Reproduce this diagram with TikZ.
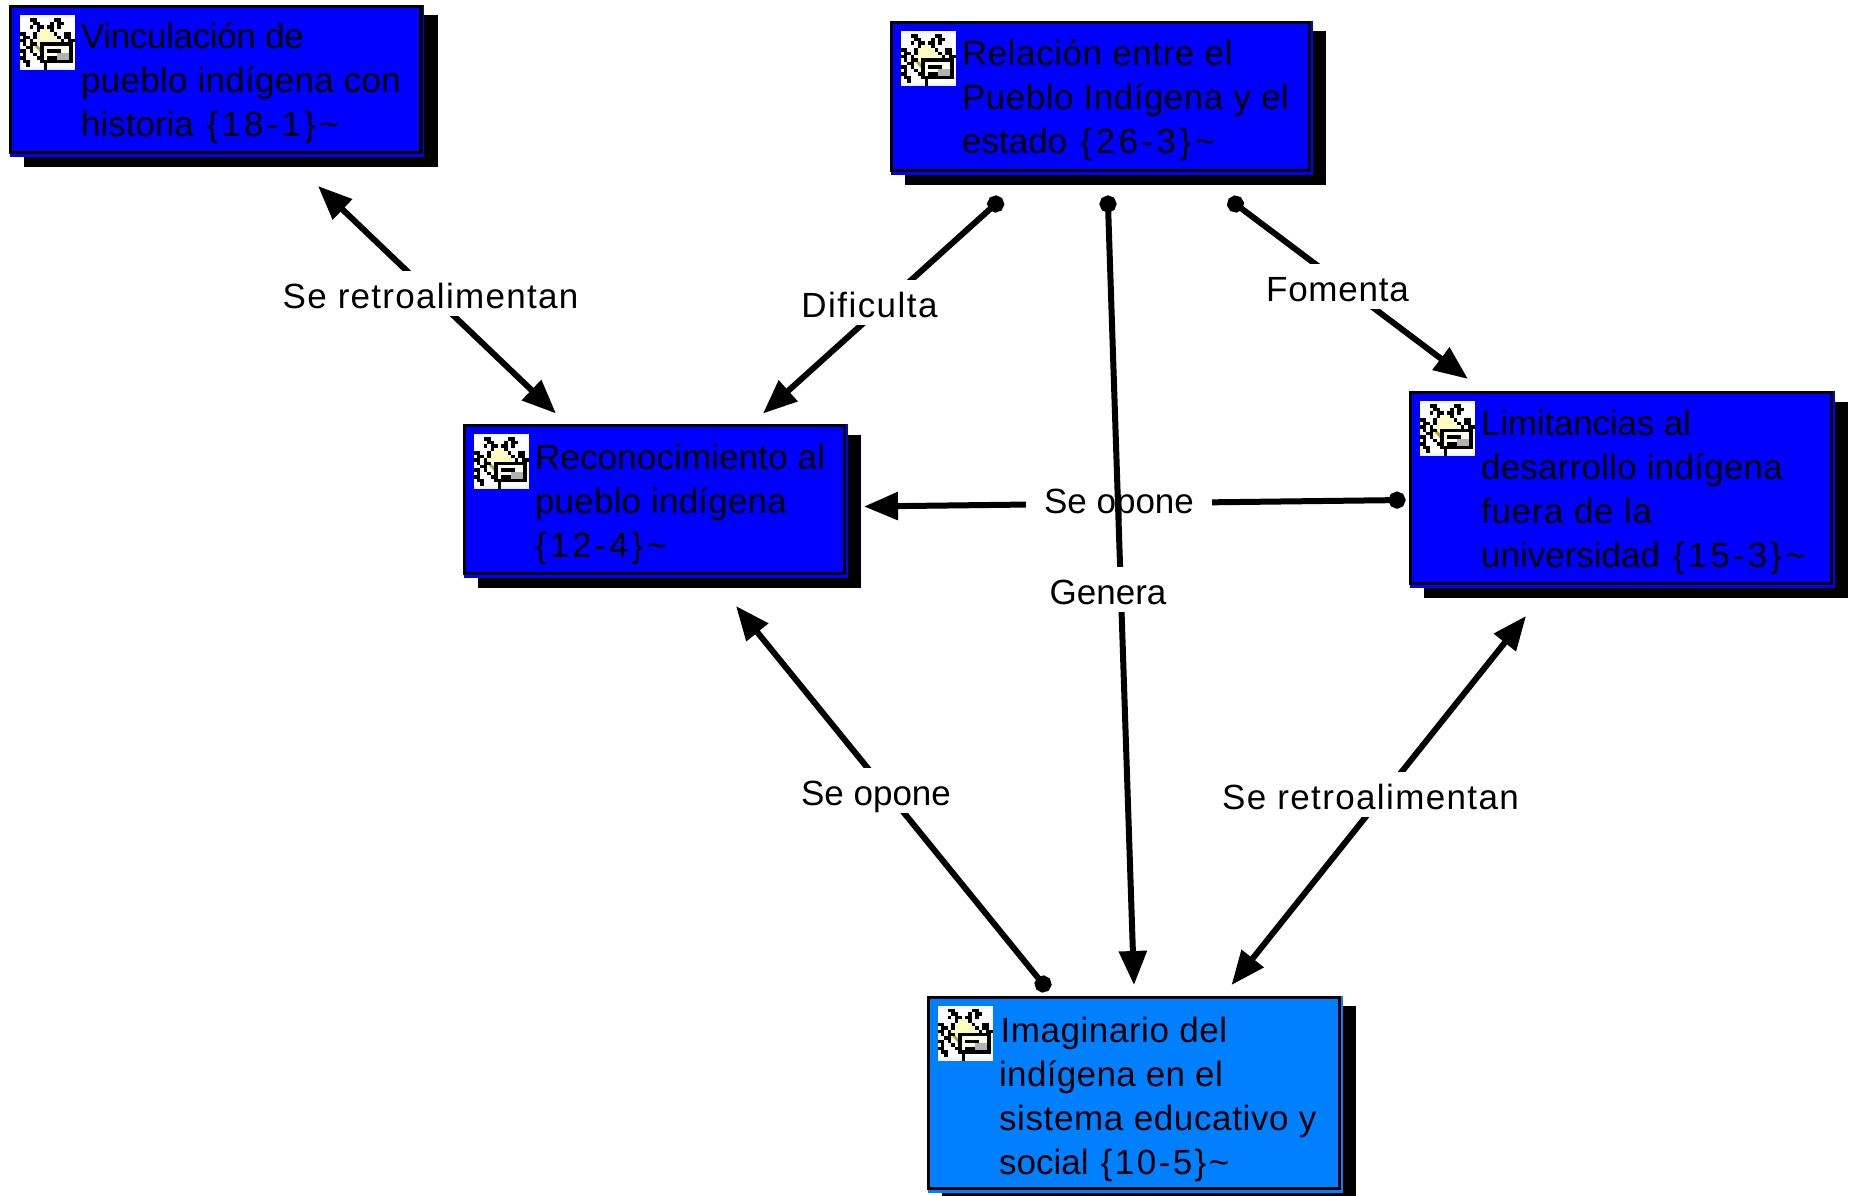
\documentclass[tikz,border=0pt]{standalone}
\usepackage{fontspec}
\setmainfont{Liberation Sans}
\usetikzlibrary{arrows.meta}
\definecolor{deepblue}{HTML}{0000FF}
\definecolor{skyblue}{HTML}{0080FF}
\newcommand\lsp[2]{{\addfontfeatures{LetterSpace=#1}#2}}
\newcommand\tagged[2]{\lsp{#1}{\ \{#2\}\textasciitilde}}
\tikzset{
  ahead/.tip={Triangle[length=34pt,width=27pt]},
  ablob/.tip={Circle[length=17pt]},
  link/.style={line width=6pt,black},
  lab/.style={fill=white,text=black,inner xsep=18pt,inner ysep=0pt,text height=37pt,text depth=8pt,
    font=\fontsize{35}{44}\selectfont,anchor=base},
  conc/.style={draw=black,line width=3.2pt,inner sep=0pt,outer sep=0pt,anchor=north west},
  icon/.pic={
    \begin{scope}[x=3.4375pt,y=-3.4375pt]
      \fill[white] (0,0) rectangle (16,16);
      \fill[black!4!white] (0,0) rectangle (16,1);
      \fill[black!4!white] (0,15) rectangle (16,16);
      \fill[yellow!25!white] (7.5,3.5) -- (12,8) -- (7.5,12.5) -- (3,8) -- cycle;
      \fill[olive!70!white] (3.5,8) -- (4.5,8) -- (7.5,11) -- (7.5,12.5) -- cycle;
      \foreach \r/\a/\b in {1/3/5,1/10/12,2/4/6,2/9/10,2/11/13,3/3/4,3/5/7,3/8/10,3/11/12,4/5/6,4/9/10,
        5/0/2,5/4/5,5/10/11,5/13/15,6/1/3,6/4/5,6/11/12,6/13/15,7/0/2,7/3/4,7/12/13,7/14/16,
        8/1/2,8/3/5,9/2/4,10/0/2,10/3/4,11/1/2,11/4/5,12/0/2,12/5/6,13/1/3,14/2/3,15/7/8}
        \fill[black] (\a,\r) rectangle (\b,\r+1);
      \fill[black] (6,8) rectangle (15.5,14);
      \fill[black] (7,14) rectangle (8,15);
      \fill[yellow!10!white] (7,9) rectangle (14.5,13);
      \fill[black!30!white] (11,11) rectangle (14.5,13);
      \fill[black] (8,10) rectangle (12,11);
      \fill[black] (8,12) rectangle (11,13);
    \end{scope}
  }
}
% first-baseline offset (optional), name, x0, y0, x1, y1 (outer edges of the black frame), colour, text
\newcommand\concept[8][43pt]{%
  \fill[black] ({#3+14.5},{#4+10.5}) rectangle ({#5+15},{#6+12.5});
  \fill[#7] ({#3+0.5},{#4}) rectangle ({#5+1.5},{#6+2.5});
  \pgfmathsetlengthmacro\cw{#5-#3-3.2}
  \pgfmathsetlengthmacro\ch{#6-#4-3.2}
  \node[conc,fill=#7,minimum width=\cw,minimum height=\ch] (#2) at ({#3+1.6},{#4+1.6}) {%
    \begin{minipage}[c][\ch][t]{\cw}%
      \fontsize{35}{44}\selectfont\raggedright\leftskip=70.5pt\rightskip=0pt plus 1fil\parindent=0pt
      \rule{0pt}{#1}#8%
    \end{minipage}};
  \pic at ({#3+10.5},{#4+10}) {icon};
}
\begin{document}
\begin{tikzpicture}[x=1pt,y=-1pt]
\useasboundingbox (0,0) rectangle (1852,1196);
\fill[white] (0,0) rectangle (1852,1196);

\concept[42.2pt]{vinc}{9}{5}{422.5}{154}{deepblue}{\lsp{-1}{Vinculación de}\\\lsp{.8}{pueblo indígena con}\\historia\tagged{9}{18-1}}
\concept{rela}{890}{21}{1311}{172}{deepblue}{\lsp{1.6}{Relación entre el}\\\lsp{1.4}{Pueblo Indígena y el}\\estado\tagged{10}{26-3}}
\concept[44pt]{reco}{463}{424}{846}{575}{deepblue}{\lsp{.4}{Reconocimiento al}\\\lsp{.6}{pueblo indígena}\\\lsp{8.5}{\{12-4\}\textasciitilde}}
\concept{limi}{1409}{391}{1833}{585}{deepblue}{\lsp{-.5}{Limitancias al}\\\lsp{.7}{desarrollo indígena}\\\lsp{2}{fuera de la}\\universidad\tagged{9}{15-3}}
\concept[45pt]{imag}{927}{995.5}{1341}{1190}{skyblue}{\hspace{1.5pt}\lsp{1.6}{Imaginario del}\\\lsp{1}{indígena en el}\\\lsp{1.8}{sistema educativo y}\\social\tagged{7}{10-5}}

\coordinate (c1a) at (318,186);    \coordinate (c1b) at (556,413.5);
\coordinate (c2a) at (1002,198.3); \coordinate (c2b) at (763,413.5);
\coordinate (c3a) at (1228.7,198.9); \coordinate (c3b) at (1468,379);
\coordinate (c4a) at (1405.5,500); \coordinate (c4b) at (864,506.5);
\coordinate (c5a) at (1107.7,195.5); \coordinate (c5b) at (1134,985);
\coordinate (c6a) at (1048.4,990.6); \coordinate (c6b) at (736,606);
\coordinate (c7a) at (1526,616);   \coordinate (c7b) at (1231.5,985);

\draw[link,{ahead}-{ahead}] (c1a) -- (c1b);
\node[lab] (l1) at (430.5,308) {\lsp{3.7}{Se retroalimentan}};
\draw[link,{ablob}-{ahead}] (c2a) -- (c2b);
\node[lab] (l2) at (869.5,317) {\lsp{4.2}{Dificulta}};
\draw[link,{ablob}-{ahead}] (c3a) -- (c3b);
\node[lab] (l3) at (1337.5,301) {\lsp{2.2}{Fomenta}};
\draw[link,{ablob}-{ahead}] (c4a) -- (c4b);
\node[lab] (l4) at (1119,513) {Se opone};
\draw[link,{ablob}-{ahead}] (c6a) -- (c6b);
\node[lab] (l6) at (876,805) {Se opone};
\draw[link,{ahead}-{ahead}] (c7a) -- (c7b);
\node[lab] (l7) at (1370.5,809) {\lsp{3.9}{Se retroalimentan}};
\draw[link,{ablob}-{ahead}] (c5a) -- (c5b);
\node[lab] (l5) at (1108,604) {Genera};
\end{tikzpicture}
\end{document}
